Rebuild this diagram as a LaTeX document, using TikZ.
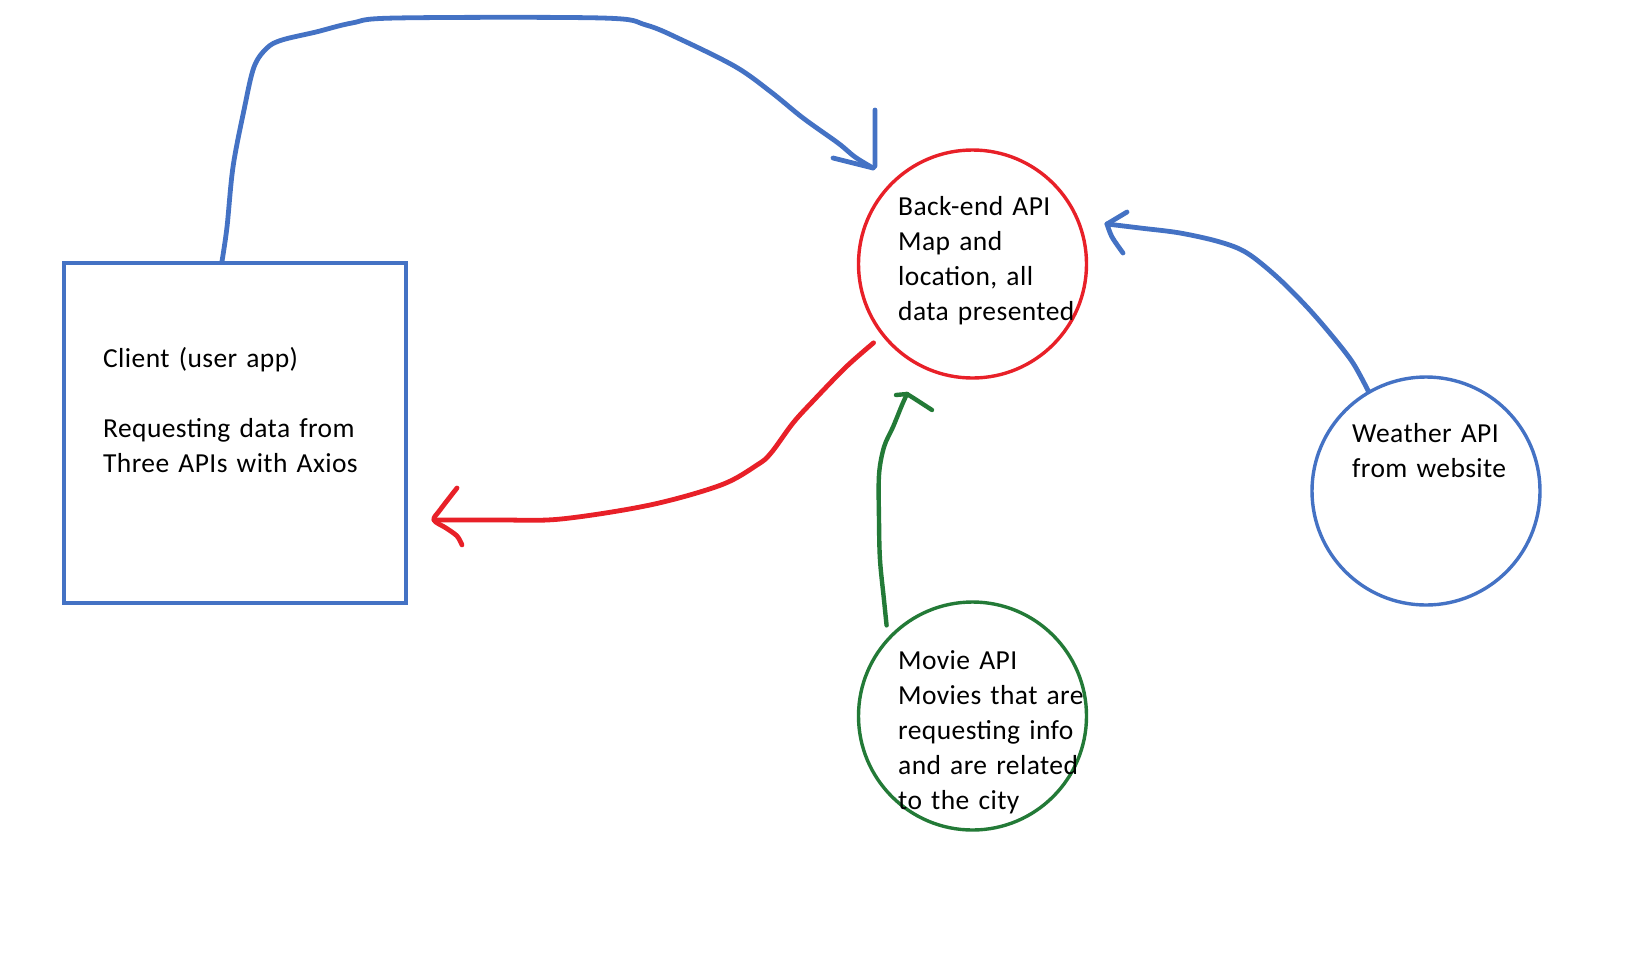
\documentclass[tikz,border=0pt]{standalone}
\usepackage{fontspec}
\setmainfont{Carlito}[LetterSpace=1.5]
\definecolor{pblue}{RGB}{68,114,196}
\definecolor{pred}{RGB}{232,32,40}
\definecolor{pgreen}{RGB}{35,122,55}
\begin{document}
\begin{tikzpicture}[x=1pt,y=-1pt,
  txt/.style={anchor=base west, inner sep=0pt, text width=340pt, align=left, font=\fontsize{27.5}{35}\selectfont},
  pen/.style={line width=4.8pt, line cap=round, line join=round},
  ring/.style={circle, draw, line width=3.4pt, minimum size=228pt, inner sep=0pt},
  boxed/.style={rectangle, draw=pblue, line width=3.4pt, minimum width=342pt, minimum height=340pt, inner sep=0pt}]
\useasboundingbox (0,0) rectangle (1638,962);

% nodes
\node[boxed] (client) at (235,433) {};
\node[ring, draw=pred] (be) at (972.5,264) {};
\node[ring, draw=pblue] (we) at (1426,491) {};
\node[ring, draw=pgreen] (mv) at (972.5,716) {};

% texts
\node[txt] (clienttxt) at (103,367) {Client (user app)\\[35pt]Requesting data from\\Three APIs with Axios};
\node[txt] (betxt) at (898,215) {Back-end API\\Map and\\location, all\\data presented};
\node[txt] (wetxt) at (1352,442) {Weather API\\from website};
\node[txt] (mvtxt) at (898,669) {Movie API\\Movies that are\\requesting info\\and are related\\to the city};

% blue: client -> back-end
\coordinate (bs) at ([xshift=-13pt]client.north);
\coordinate (bt) at (873,168);
\draw[pen,pblue] plot[smooth,tension=0.55] coordinates {(bs) (227,227) (233,167) (244,110) (254,67) (267,48) (282,40) (316,32) (352,23) (396,18) (602,18) (646,25) (682,40) (736,67) (771,92) (803,118) (838,143) (855,157) (bt)};
\draw[pen,pblue] (875,110) -- (875,166) -- (bt) -- (833,158);

% red: back-end -> client
\coordinate (rs) at ([xshift=-9pt,yshift=-6pt]be.219);
\coordinate (rt) at (434,520);
\draw[pen,pred] plot[smooth,tension=0.55] coordinates {(rs) (846,367) (814,400) (793,423) (771,453) (757,465) (721,485) (650,505) (561,519) (500,520) (rt)};
\draw[pen,pred] plot[smooth,tension=0.55] coordinates {(457,488) (440,510) (rt) (446,528) (457,536) (462,545)};

% green: movie -> back-end
\coordinate (gs) at ([xshift=-7pt,yshift=6pt]mv.133);
\coordinate (gt) at (907,394);
\draw[pen,pgreen,line width=4.4pt] plot[smooth,tension=0.55] coordinates {(gs) (884,600) (880,560) (879,520) (879,475) (884,447) (893,427) (902,405) (gt)};
\draw[pen,pgreen,line width=4.4pt] (896,395) -- (gt);
\draw[pen,pgreen,line width=4.4pt] plot[smooth,tension=0.55] coordinates {(gt) (915,399) (932,410)};

% blue: weather -> back-end
\coordinate (ws) at (we.120);
\coordinate (wt) at (1107,224);
\draw[pen,pblue] plot[smooth,tension=0.55] coordinates {(ws) (1353,363) (1333,337) (1307,307) (1277,277) (1247,253) (1220,242) (1180,233) (1140,228) (wt)};
\draw[pen,pblue] (1127,212) -- (wt);
\draw[pen,pblue] plot[smooth,tension=0.55] coordinates {(wt) (1112,237) (1123,253)};
\end{tikzpicture}
\end{document}
